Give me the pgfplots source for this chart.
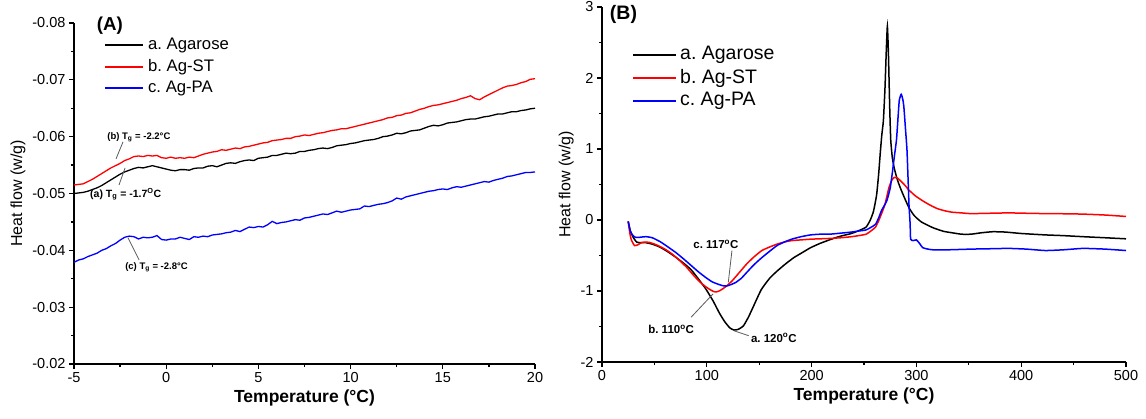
\documentclass[border=0pt]{standalone}
\usepackage{fontspec}
\setmainfont{Liberation Sans}
\usepackage{pgfplots}
\pgfplotsset{compat=1.18}
\definecolor{annot}{RGB}{90,90,90}
\frenchspacing
\pgfplotsset{
  common/.style={
    scale only axis, clip=false,
    axis lines*=left,
    axis line style={line width=1.6pt},
    tick align=outside, major tick length=5pt, minor tick length=3pt,
    major tick style={line width=1.3pt, black},
    minor tick style={line width=1.3pt, black},
    ticklabel style={font=\fontsize{14.5}{16}\selectfont},
    xlabel style={font=\bfseries\fontsize{17.5}{20}\selectfont},
    ylabel style={font=\fontsize{16}{18}\selectfont},
    scaled ticks=false,
  }
}
\begin{document}
\begin{tikzpicture}[x=1pt,y=1pt]
\useasboundingbox (0,0) rectangle (1146,-419);
% ---------------- Panel A ----------------
\begin{axis}[common,
  at={(74pt,-364pt)}, anchor=south west,
  width=461pt, height=341pt,
  xmin=-5, xmax=20, ymin=-0.08, ymax=-0.02, y dir=reverse,
  xtick={-5,0,5,10,15,20}, xticklabels={-5,0,5,10,15,20},
  minor x tick num=1,
  ytick={-0.08,-0.07,-0.06,-0.05,-0.04,-0.03,-0.02},
  yticklabels={-0.08,-0.07,-0.06,-0.05,-0.04,-0.03,-0.02},
  minor y tick num=1,
  xlabel={Temperature (°C)}, ylabel={Heat flow (w/g)},
]
\addplot[black, line width=1.3pt] coordinates {
(-5.00,-0.0500)(-4.75,-0.0501)(-4.50,-0.0502)(-4.25,-0.0504)(-4.00,-0.0507)(-3.75,-0.0510)(-3.50,-0.0514)(-3.25,-0.0519)(-3.00,-0.0524)(-2.75,-0.0529)(-2.50,-0.0534)(-2.25,-0.0538)(-2.00,-0.0541)(-1.75,-0.0544)(-1.50,-0.0546)(-1.25,-0.0545)(-1.00,-0.0547)(-0.75,-0.0549)(-0.50,-0.0547)(-0.25,-0.0545)(0.00,-0.0543)(0.25,-0.0541)(0.50,-0.0540)(0.75,-0.0542)(1.00,-0.0542)(1.25,-0.0541)(1.50,-0.0544)(1.75,-0.0545)(2.00,-0.0545)(2.25,-0.0548)(2.50,-0.0549)(2.75,-0.0547)(3.00,-0.0550)(3.25,-0.0553)(3.50,-0.0554)(3.75,-0.0553)(4.00,-0.0556)(4.25,-0.0558)(4.50,-0.0559)(4.75,-0.0558)(5.00,-0.0562)(5.25,-0.0563)(5.50,-0.0564)(5.75,-0.0567)(6.00,-0.0567)(6.25,-0.0569)(6.50,-0.0571)(6.75,-0.0570)(7.00,-0.0571)(7.25,-0.0574)(7.50,-0.0574)(7.75,-0.0576)(8.00,-0.0577)(8.25,-0.0579)(8.50,-0.0580)(8.75,-0.0579)(9.00,-0.0581)(9.25,-0.0584)(9.50,-0.0585)(9.75,-0.0586)(10.00,-0.0588)(10.25,-0.0589)(10.50,-0.0591)(10.75,-0.0593)(11.00,-0.0594)(11.25,-0.0595)(11.50,-0.0597)(11.75,-0.0600)(12.00,-0.0601)(12.25,-0.0603)(12.50,-0.0606)(12.75,-0.0605)(13.00,-0.0607)(13.25,-0.0610)(13.50,-0.0611)(13.75,-0.0612)(14.00,-0.0615)(14.25,-0.0618)(14.50,-0.0620)(14.75,-0.0619)(15.00,-0.0621)(15.25,-0.0624)(15.50,-0.0625)(15.75,-0.0626)(16.00,-0.0628)(16.25,-0.0630)(16.50,-0.0631)(16.75,-0.0631)(17.00,-0.0633)(17.25,-0.0635)(17.50,-0.0636)(17.75,-0.0638)(18.00,-0.0640)(18.25,-0.0640)(18.50,-0.0642)(18.75,-0.0644)(19.00,-0.0644)(19.25,-0.0646)(19.50,-0.0647)(19.75,-0.0649)(20.00,-0.0650)
};
\addplot[red, line width=1.3pt] coordinates {
(-5.00,-0.0515)(-4.75,-0.0516)(-4.50,-0.0517)(-4.25,-0.0521)(-4.00,-0.0525)(-3.75,-0.0530)(-3.50,-0.0535)(-3.25,-0.0540)(-3.00,-0.0545)(-2.75,-0.0549)(-2.50,-0.0553)(-2.25,-0.0558)(-2.00,-0.0561)(-1.75,-0.0565)(-1.50,-0.0566)(-1.25,-0.0565)(-1.00,-0.0567)(-0.75,-0.0566)(-0.50,-0.0567)(-0.25,-0.0563)(0.00,-0.0562)(0.25,-0.0564)(0.50,-0.0562)(0.75,-0.0563)(1.00,-0.0562)(1.25,-0.0564)(1.50,-0.0563)(1.75,-0.0566)(2.00,-0.0569)(2.25,-0.0571)(2.50,-0.0573)(2.75,-0.0574)(3.00,-0.0577)(3.25,-0.0576)(3.50,-0.0578)(3.75,-0.0580)(4.00,-0.0579)(4.25,-0.0582)(4.50,-0.0583)(4.75,-0.0585)(5.00,-0.0587)(5.25,-0.0589)(5.50,-0.0590)(5.75,-0.0593)(6.00,-0.0594)(6.25,-0.0595)(6.50,-0.0597)(6.75,-0.0597)(7.00,-0.0600)(7.25,-0.0601)(7.50,-0.0603)(7.75,-0.0602)(8.00,-0.0604)(8.25,-0.0606)(8.50,-0.0607)(8.75,-0.0609)(9.00,-0.0611)(9.25,-0.0612)(9.50,-0.0614)(9.75,-0.0614)(10.00,-0.0616)(10.25,-0.0618)(10.50,-0.0620)(10.75,-0.0622)(11.00,-0.0624)(11.25,-0.0626)(11.50,-0.0628)(11.75,-0.0630)(12.00,-0.0633)(12.25,-0.0634)(12.50,-0.0637)(12.75,-0.0638)(13.00,-0.0641)(13.25,-0.0642)(13.50,-0.0645)(13.75,-0.0648)(14.00,-0.0650)(14.25,-0.0653)(14.50,-0.0655)(14.75,-0.0656)(15.00,-0.0658)(15.25,-0.0660)(15.50,-0.0662)(15.75,-0.0664)(16.00,-0.0667)(16.25,-0.0669)(16.50,-0.0672)(16.75,-0.0667)(17.00,-0.0665)(17.25,-0.0670)(17.50,-0.0674)(17.75,-0.0678)(18.00,-0.0682)(18.25,-0.0686)(18.50,-0.0689)(18.75,-0.0690)(19.00,-0.0692)(19.25,-0.0695)(19.50,-0.0697)(19.75,-0.0701)(20.00,-0.0702)
};
\addplot[blue, line width=1.3pt] coordinates {
(-5.00,-0.0379)(-4.75,-0.0383)(-4.50,-0.0385)(-4.25,-0.0389)(-4.00,-0.0392)(-3.75,-0.0395)(-3.50,-0.0400)(-3.25,-0.0403)(-3.00,-0.0408)(-2.75,-0.0412)(-2.50,-0.0418)(-2.25,-0.0423)(-2.00,-0.0425)(-1.75,-0.0424)(-1.50,-0.0420)(-1.25,-0.0423)(-1.00,-0.0422)(-0.75,-0.0423)(-0.50,-0.0426)(-0.25,-0.0419)(0.00,-0.0418)(0.25,-0.0420)(0.50,-0.0420)(0.75,-0.0423)(1.00,-0.0421)(1.25,-0.0419)(1.50,-0.0424)(1.75,-0.0423)(2.00,-0.0425)(2.25,-0.0424)(2.50,-0.0427)(2.75,-0.0428)(3.00,-0.0429)(3.25,-0.0431)(3.50,-0.0432)(3.75,-0.0435)(4.00,-0.0433)(4.25,-0.0437)(4.50,-0.0441)(4.75,-0.0440)(5.00,-0.0442)(5.25,-0.0441)(5.50,-0.0445)(5.75,-0.0451)(6.00,-0.0447)(6.25,-0.0449)(6.50,-0.0450)(6.75,-0.0452)(7.00,-0.0454)(7.25,-0.0453)(7.50,-0.0457)(7.75,-0.0458)(8.00,-0.0460)(8.25,-0.0462)(8.50,-0.0464)(8.75,-0.0463)(9.00,-0.0466)(9.25,-0.0469)(9.50,-0.0467)(9.75,-0.0469)(10.00,-0.0471)(10.25,-0.0472)(10.50,-0.0473)(10.75,-0.0478)(11.00,-0.0477)(11.25,-0.0479)(11.50,-0.0481)(11.75,-0.0482)(12.00,-0.0484)(12.25,-0.0487)(12.50,-0.0492)(12.75,-0.0490)(13.00,-0.0494)(13.25,-0.0496)(13.50,-0.0498)(13.75,-0.0500)(14.00,-0.0502)(14.25,-0.0504)(14.50,-0.0505)(14.75,-0.0507)(15.00,-0.0508)(15.25,-0.0507)(15.50,-0.0510)(15.75,-0.0512)(16.00,-0.0511)(16.25,-0.0513)(16.50,-0.0515)(16.75,-0.0517)(17.00,-0.0519)(17.25,-0.0521)(17.50,-0.0520)(17.75,-0.0523)(18.00,-0.0525)(18.25,-0.0527)(18.50,-0.0530)(18.75,-0.0531)(19.00,-0.0533)(19.25,-0.0535)(19.50,-0.0537)(19.75,-0.0537)(20.00,-0.0538)
};
% legend samples (A)
\addplot[black, line width=1.4pt, forget plot] coordinates {(-3.32,-0.07613)(-1.26,-0.07613)};
\addplot[red, line width=1.4pt, forget plot] coordinates {(-3.32,-0.07226)(-1.26,-0.07226)};
\addplot[blue, line width=1.4pt, forget plot] coordinates {(-3.32,-0.06856)(-1.26,-0.06856)};
\node[anchor=west, inner sep=0pt, font=\fontsize{16.7}{19}\selectfont] at (axis cs:-0.99,-0.07613) {a. Agarose};
\node[anchor=west, inner sep=0pt, font=\fontsize{16.7}{19}\selectfont] at (axis cs:-0.99,-0.07226) {b. Ag-ST};
\node[anchor=west, inner sep=0pt, font=\fontsize{16.7}{19}\selectfont] at (axis cs:-0.99,-0.06856) {c. Ag-PA};
\node[font=\bfseries\fontsize{18.7}{20}\selectfont] at (axis cs:-3.05,-0.0795) {(A)};
\draw[annot, line width=0.8pt] (axis cs:-2.72,-0.0561) -- (axis cs:-2.34,-0.0591);
\node[anchor=west, font=\bfseries\fontsize{9.5}{11}\selectfont, inner sep=0pt] at (axis cs:-3.2,-0.0599) {(b) T\textsubscript{g} = -2.2°C};
\draw[annot, line width=0.8pt] (axis cs:-2.23,-0.0545) -- (axis cs:-2.56,-0.0515);
\node[anchor=west, font=\bfseries\fontsize{10.5}{12}\selectfont, inner sep=0pt] at (axis cs:-4.13,-0.0499) {(a) T\textsubscript{g} = -1.7\textsuperscript{O}C};
\draw[annot, line width=0.8pt] (axis cs:-2.07,-0.0422) -- (axis cs:-1.47,-0.0383);
\node[anchor=west, font=\bfseries\fontsize{9.5}{11}\selectfont, inner sep=0pt] at (axis cs:-2.23,-0.0371) {(c) T\textsubscript{g} = -2.8°C};
\end{axis}
% ---------------- Panel B ----------------
\begin{axis}[common,
  at={(602pt,-362pt)}, anchor=south west,
  width=524pt, height=355pt,
  xmin=0, xmax=500, ymin=-2, ymax=3,
  xtick={0,100,200,300,400,500}, xticklabels={0,100,200,300,400,500},
  minor x tick num=1,
  ytick={-2,-1,0,1,2,3}, yticklabels={-2,-1,0,1,2,3},
  minor y tick num=1,
  xlabel={Temperature (°C)}, ylabel={Heat flow (w/g)},
]
\addplot[black, line width=1.5pt, smooth, tension=0.3] coordinates {
(25,-0.02)(27,-0.15)(29.6,-0.24)(33,-0.31)(37,-0.32)(42,-0.32)(48,-0.34)(55,-0.38)(62,-0.44)(70,-0.52)(78,-0.61)(85,-0.70)(92,-0.83)(99,-0.97)(106,-1.14)(112,-1.31)(117,-1.43)(122,-1.52)(126,-1.55)(130,-1.54)(135,-1.49)(140,-1.36)(145,-1.20)(152,-0.98)(160,-0.82)(167,-0.72)(175,-0.62)(183,-0.53)(191,-0.46)(199,-0.39)(208,-0.33)(217,-0.28)(227,-0.23)(238,-0.19)(245,-0.15)(252,-0.10)(256,0.0)(259,0.12)(262,0.35)(264,0.65)(265.5,0.94)(267,1.20)(268.5,1.40)(270,1.85)(271.3,2.40)(272.3,2.73)(273.3,2.35)(274.5,1.60)(275.5,1.13)(277,0.88)(279,0.72)(282,0.56)(285,0.44)(289,0.30)(293,0.17)(298,0.06)(305,-0.03)(316,-0.11)(326,-0.16)(334,-0.18)(343,-0.20)(352,-0.20)(362,-0.18)(373,-0.165)(385,-0.17)(400,-0.19)(423,-0.21)(440,-0.22)(459,-0.235)(480,-0.25)(500,-0.265)
};
\addplot[red, line width=1.5pt, smooth, tension=0.3] coordinates {
(25,-0.02)(26.5,-0.18)(28,-0.28)(31,-0.36)(34,-0.35)(38.5,-0.315)(45,-0.315)(52,-0.35)(60,-0.41)(67,-0.48)(74,-0.57)(81,-0.67)(88,-0.79)(94,-0.88)(99,-0.94)(103,-0.98)(107,-1.01)(110,-1.01)(113,-0.99)(118,-0.94)(124,-0.86)(131,-0.74)(138,-0.62)(145,-0.52)(152.5,-0.43)(160,-0.38)(167,-0.34)(174,-0.31)(181,-0.29)(190,-0.28)(199,-0.27)(208,-0.265)(217,-0.26)(228,-0.25)(238,-0.235)(245,-0.22)(252,-0.20)(257,-0.15)(261,-0.10)(264,-0.01)(266.5,0.08)(270,0.22)(273.7,0.45)(276.5,0.56)(279,0.60)(282,0.59)(285,0.55)(289,0.49)(293,0.42)(299,0.34)(306,0.27)(313,0.21)(320,0.16)(327,0.13)(334,0.11)(343,0.10)(352,0.09)(370,0.095)(388,0.10)(405,0.095)(423,0.09)(440,0.088)(459,0.083)(480,0.07)(500,0.05)
};
\addplot[blue, line width=1.5pt, smooth, tension=0.3] coordinates {
(25,-0.02)(27,-0.16)(29.6,-0.22)(32,-0.245)(35,-0.245)(38,-0.24)(42,-0.235)(48,-0.25)(56,-0.31)(63,-0.38)(70.6,-0.46)(78,-0.55)(85,-0.64)(92,-0.73)(99,-0.81)(105,-0.87)(110,-0.90)(115,-0.925)(119,-0.93)(123,-0.91)(127.6,-0.88)(133,-0.82)(138,-0.74)(145,-0.63)(152.5,-0.53)(160,-0.44)(167,-0.36)(174,-0.31)(181,-0.27)(190,-0.235)(199,-0.21)(208,-0.20)(217,-0.20)(228,-0.185)(238,-0.17)(245,-0.155)(252,-0.14)(257,-0.10)(261,-0.06)(264,0.03)(266.6,0.13)(270,0.22)(272,0.28)(275,0.45)(277,0.66)(279,0.90)(281,1.13)(282.5,1.45)(283.7,1.69)(285.5,1.77)(287,1.70)(288,1.60)(289.5,1.30)(291,0.99)(292,0.60)(293,0.19)(294,-0.05)(294.5,-0.27)(297,-0.29)(300,-0.28)(303,-0.33)(306,-0.39)(311,-0.41)(316,-0.42)(330,-0.42)(352,-0.41)(370,-0.405)(388,-0.40)(405,-0.41)(423,-0.43)(440,-0.42)(459,-0.40)(480,-0.41)(500,-0.43)
};
% legend samples (B)
\addplot[black, line width=1.5pt, forget plot] coordinates {(29.6,2.324)(70.6,2.324)};
\addplot[red, line width=1.5pt, forget plot] coordinates {(29.6,2.0)(70.6,2.0)};
\addplot[blue, line width=1.5pt, forget plot] coordinates {(29.6,1.676)(70.6,1.676)};
\node[anchor=west, inner sep=0pt, font=\fontsize{19.5}{22}\selectfont] at (axis cs:74.4,2.324) {a. Agarose};
\node[anchor=west, inner sep=0pt, font=\fontsize{19.5}{22}\selectfont] at (axis cs:74.4,2.0) {b. Ag-ST};
\node[anchor=west, inner sep=0pt, font=\fontsize{19.5}{22}\selectfont] at (axis cs:74.4,1.676) {c. Ag-PA};
\node[font=\bfseries\fontsize{19.5}{21}\selectfont] at (axis cs:20.5,2.89) {(B)};
\draw[annot, line width=0.8pt] (axis cs:124,-0.43) -- (axis cs:120.5,-0.88);
\node[anchor=west, font=\bfseries\fontsize{11.5}{13}\selectfont, inner sep=0pt] at (axis cs:87,-0.34) {c. 117\textsuperscript{o}C};
\draw[annot, line width=0.8pt] (axis cs:85,-1.37) -- (axis cs:106,-1.04);
\node[anchor=west, font=\bfseries\fontsize{11.5}{13}\selectfont, inner sep=0pt] at (axis cs:44,-1.54) {b. 110\textsuperscript{o}C};
\draw[annot, line width=0.8pt] (axis cs:126,-1.56) -- (axis cs:140,-1.63);
\node[anchor=west, font=\bfseries\fontsize{11.5}{13}\selectfont, inner sep=0pt] at (axis cs:142,-1.66) {a. 120\textsuperscript{o}C};
\end{axis}
\end{tikzpicture}
\end{document}
